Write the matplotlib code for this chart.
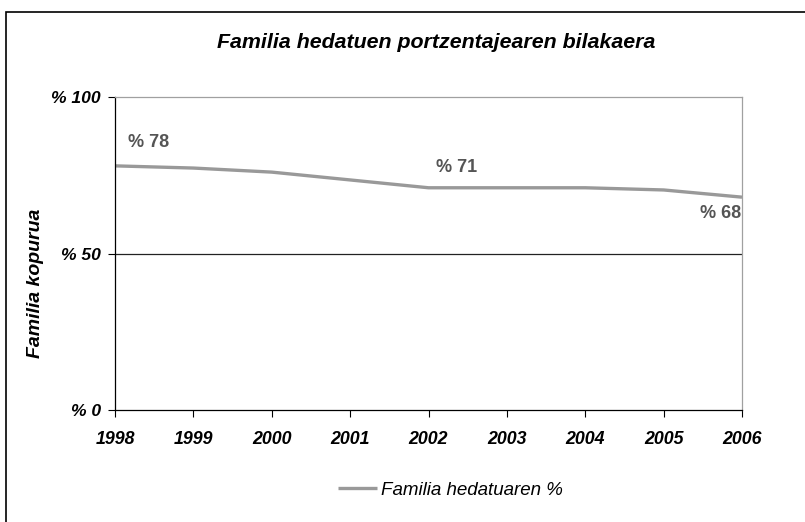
import matplotlib
matplotlib.use("Agg")
import matplotlib.pyplot as plt
from matplotlib.patches import Rectangle

years = [1998, 1999, 2000, 2001, 2002, 2003, 2004, 2005, 2006]
values = [78, 77.3, 76, 73.5, 71, 71, 71, 70.3, 68]
ytick_vals = [0, 50, 100]
ytick_labels = ["% 0", "% 50", "% 100"]
annot_idx = [0, 4, 8]
annot_text = ["% 78", "% 71", "% 68"]
title = "Familia hedatuen portzentajearen bilakaera"
ylabel = "Familia kopurua"
series_name = "Familia hedatuaren %"

plt.rcParams['font.family'] = ['Liberation Sans', 'DejaVu Sans']

W, H = 805, 522
fig = plt.figure(figsize=(W / 100, H / 100), dpi=100)
fig.patches.append(Rectangle((6 / W, -0.1), 1.2, 1 - 12 / H + 0.1, transform=fig.transFigure,
                             fill=False, edgecolor='black', linewidth=1.2))

ax = fig.add_axes([115 / W, 1 - 410 / H, (742 - 115) / W, (410 - 97) / H])
x = list(range(len(years)))
line, = ax.plot(x, values, color='#999999', linewidth=2.4, solid_capstyle='butt')
ax.set_xlim(0, len(years) - 1)
ax.set_ylim(0, 100)
ax.set_yticks(ytick_vals)
ax.set_yticklabels(ytick_labels, fontsize=12.6, fontweight='bold', style='italic')
ax.set_xticks(x)
ax.set_xticklabels([str(y) for y in years], fontsize=12.8, fontweight='bold', style='italic')
ax.tick_params(axis='y', direction='out', length=5, width=0.8, pad=5)
ax.tick_params(axis='x', direction='out', length=5, width=0.8, pad=10)
ax.axhline(50, color='#222222', linewidth=0.9, zorder=1)
ax.spines['top'].set_color('#a0a0a0')
ax.spines['right'].set_color('#a0a0a0')
ax.spines['left'].set_color('black')
ax.spines['bottom'].set_color('black')
for s in ax.spines.values():
    s.set_linewidth(0.9)

offsets = [(9, 17, 'left'), (5.5, 14.5, 'left'), (-0.5, -12, 'right')]
for i, t, (dx, dy, ha) in zip(annot_idx, annot_text, offsets):
    ax.annotate(t, (x[i], values[i]), xytext=(dx, dy), textcoords='offset points',
                ha=ha, va='center', fontsize=13, fontweight='bold', color='#555555')

ax.set_ylabel(ylabel, fontsize=14, fontweight='bold', style='italic')
fig.canvas.draw()
ax.yaxis.set_label_coords(36 / W, 1 - 283 / H, transform=fig.transFigure)
ax.yaxis.label.set_va('center')
fig.text(436 / W, 1 - 43 / H, title, ha='center', va='center', fontsize=15.4,
         fontweight='bold', style='italic')

leg = fig.legend([line], [series_name], loc='center', bbox_to_anchor=(450 / W, 1 - 490 / H),
                 frameon=False, prop={'size': 13.5, 'style': 'italic'}, handlelength=2.1,
                 handletextpad=0.2)

fig.savefig("out.png", dpi=100)
